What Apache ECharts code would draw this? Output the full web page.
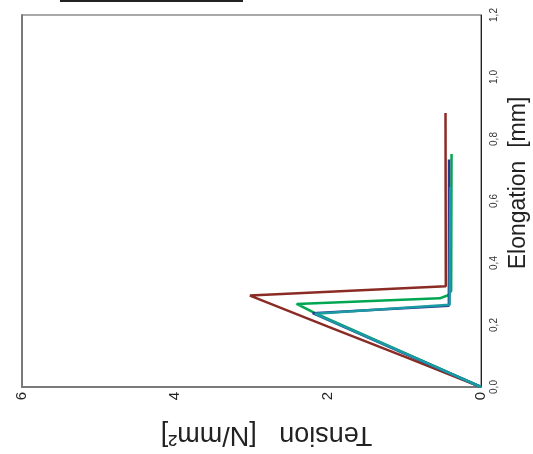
<!DOCTYPE html>
<html>
<head>
<meta charset="utf-8">
<script src="https://cdn.jsdelivr.net/npm/echarts@6/dist/echarts.min.js"></script>
<style>
html,body{margin:0;padding:0;background:#fff;}
#chart{width:533px;height:454px;}
</style>
</head>
<body>
<div id="chart"></div>
<script>
// Tension [N/mm²] vs Elongation [mm] (chart drawn rotated: tension along bottom, elongation along right)
var tensionTicks = [0, 2, 4, 6];
var elongationTicks = [0.0, 0.2, 0.4, 0.6, 0.8, 1.0, 1.2];

var brownTension = [0, 1.0, 2.0, 3.02, 0.46, 0.464];
var brownElong   = [0, 0.098, 0.195, 0.295, 0.325, 0.884];

var greenTension = [0, 1.0, 2.17, 2.41, 0.54, 0.43, 0.39, 0.385];
var greenElong   = [0, 0.11, 0.238, 0.268, 0.286, 0.296, 0.31, 0.752];

var navyTension = [0, 1.0, 2.2, 0.42, 0.418];
var navyElong   = [0, 0.108, 0.238, 0.262, 0.734];

var tealTension = [0, 1.0, 2.17, 0.41, 0.40];
var tealElong   = [0, 0.109, 0.236, 0.265, 0.645];

function pairs(t, e) { return t.map(function (v, i) { return [v, e[i]]; }); }

var FONT = 'Liberation Sans, Arial, sans-serif';
var chart = echarts.init(document.getElementById('chart'));

function lineSeries(name, t, e, color) {
  return {
    name: name, type: 'line', data: pairs(t, e),
    showSymbol: false, symbol: 'none', animation: false,
    lineStyle: { color: color, width: 2.5 }
  };
}

chart.setOption({
  animation: false,
  backgroundColor: '#fff',
  grid: { left: 22, right: 52, top: 15, bottom: 67, show: true, borderColor: '#555', borderWidth: 1,
          containLabel: false, outerBoundsMode: 'none' },
  xAxis: {
    type: 'value', min: 0, max: 6, interval: 2, inverse: true, position: 'bottom',
    axisLine: { show: true, lineStyle: { color: '#7a7a7a', width: 2 } },
    axisTick: { show: false }, splitLine: { show: false },
    axisLabel: { rotate: 90, fontSize: 15, color: '#222', margin: 5, fontFamily: FONT },
    name: 'Tension   [N/mm²]', nameLocation: 'middle', nameGap: 34, nameRotate: 180,
    nameTextStyle: { fontSize: 27, color: '#222', fontFamily: FONT, padding: [0, 30, 0, 0] }
  },
  yAxis: [{
    type: 'value', min: 0, max: 1.2, interval: 0.2, position: 'right',
    axisLine: { show: true, lineStyle: { color: '#222', width: 1 } },
    axisTick: { show: false }, splitLine: { show: false },
    axisLabel: { rotate: 90, fontSize: 10, color: '#333', margin: 8, fontFamily: FONT,
      formatter: function (v) { return v.toFixed(1).replace('.', ','); } },
    name: 'Elongation  [mm]', nameLocation: 'middle', nameGap: 26, nameRotate: 90,
    nameTextStyle: { fontSize: 23, color: '#222', fontFamily: FONT, padding: [0, 0, 0, 36] }
  }, {
    type: 'value', min: 0, max: 1.2, position: 'left',
    axisLine: { show: true, lineStyle: { color: '#7a7a7a', width: 2 } },
    axisTick: { show: false }, splitLine: { show: false }, axisLabel: { show: false }
  }],
  graphic: [{
    type: 'line', shape: { x1: 60, y1: 1, x2: 243, y2: 1 },
    style: { stroke: '#222', lineWidth: 2 }
  }],
  series: [
    lineSeries('brown', brownTension, brownElong, '#8b2b25'),
    lineSeries('green', greenTension, greenElong, '#00a651'),
    lineSeries('navy', navyTension, navyElong, '#2b3990'),
    lineSeries('teal', tealTension, tealElong, '#1a9aa2')
  ]
});
</script>
</body>
</html>
